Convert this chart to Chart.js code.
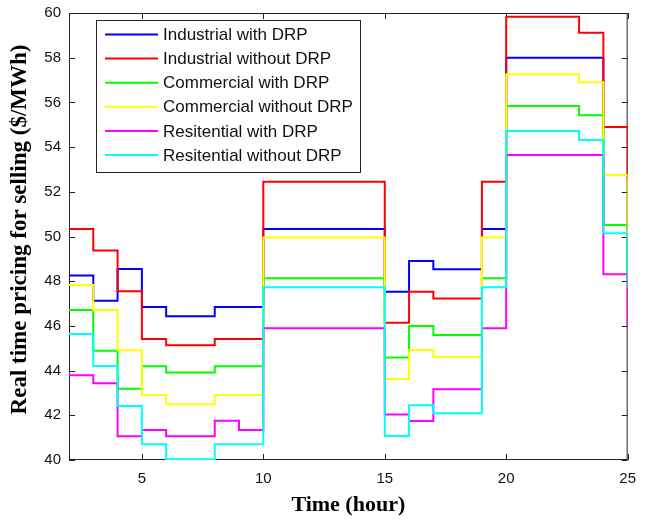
<!DOCTYPE html>
<html>
<head>
<meta charset="utf-8">
<script src="https://cdn.jsdelivr.net/npm/chart.js@4.4.1/dist/chart.umd.min.js"></script>
<style>
  html, body { margin: 0; padding: 0; background: #fff; }
  #wrap { width: 646px; height: 524px; position: relative; }
</style>
</head>
<body>
<div id="wrap"><canvas id="chart"></canvas></div>
<script>
// hours of each step start (last point closes the final step at 25)
const hours = [2, 3, 4, 5, 6, 7, 8, 9, 10, 11, 12, 13, 14, 15, 16, 17, 18, 19, 20, 21, 22, 23, 24, 25];

const industrialDRP   = [48.25, 47.13, 48.55, 46.85, 46.43, 46.43, 46.85, 46.85, 50.34, 50.34, 50.34, 50.34, 50.34, 47.53, 48.90, 48.53, 48.53, 50.34, 58.00, 58.00, 58.00, 58.00, 50.51, 50.34];
const industrialNoDRP = [50.34, 49.37, 47.55, 45.41, 45.13, 45.13, 45.41, 45.41, 52.45, 52.45, 52.45, 52.45, 52.45, 46.14, 47.53, 47.23, 47.23, 52.45, 59.83, 59.83, 59.83, 59.12, 54.90, 52.45];
const commercialDRP   = [46.71, 44.89, 43.19, 44.19, 43.92, 43.92, 44.19, 44.19, 48.13, 48.13, 48.13, 48.13, 48.13, 44.59, 45.99, 45.59, 45.59, 48.13, 55.84, 55.84, 55.84, 55.42, 50.51, 48.13];
const commercialNoDRP = [47.83, 46.71, 44.91, 42.91, 42.49, 42.49, 42.91, 42.91, 49.95, 49.95, 49.95, 49.95, 49.95, 43.62, 44.92, 44.61, 44.61, 49.95, 57.26, 57.26, 57.26, 56.90, 52.75, 49.95];
const residentialDRP  = [43.79, 43.43, 41.06, 41.34, 41.06, 41.06, 41.76, 41.34, 45.89, 45.89, 45.89, 45.89, 45.89, 42.04, 41.74, 43.16, 43.16, 45.89, 53.65, 53.65, 53.65, 53.65, 48.31, 45.89];
const residentialNoDRP= [45.64, 44.21, 42.42, 40.70, 40.03, 40.03, 40.70, 40.70, 47.73, 47.73, 47.73, 47.73, 47.73, 41.07, 42.45, 42.09, 42.09, 47.73, 54.72, 54.72, 54.72, 54.32, 50.14, 47.73];

const seriesLabels = ['Industrial with DRP', 'Industrial without DRP', 'Commercial with DRP',
  'Commercial without DRP', 'Resitential with DRP', 'Resitential without DRP'];
const seriesColors = ['#0000ff', '#ff0000', '#00ff00', '#ffff00', '#ff00ff', '#00ffff'];
const seriesValues = [industrialDRP, industrialNoDRP, commercialDRP, commercialNoDRP, residentialDRP, residentialNoDRP];

const xTicks = [5, 10, 15, 20, 25];
const yTicks = [40, 42, 44, 46, 48, 50, 52, 54, 56, 58, 60];
const yTitle = 'Real time pricing for selling ($/MWh)';

const sansFont = 'Arial, "Liberation Sans", sans-serif';
const serifFont = '"Times New Roman", "Liberation Serif", serif';

// matlab-like box with inward ticks on all four sides
const boxPlugin = {
  id: 'boxPlugin',
  beforeDatasetsDraw(chart) {
    const { ctx, chartArea: a, scales } = chart;
    ctx.save();
    ctx.strokeStyle = '#222';
    ctx.lineWidth = 1;
    ctx.strokeRect(a.left + 0.5, a.top + 0.5, a.right - a.left - 1, a.bottom - a.top - 1);
    ctx.beginPath();
    xTicks.forEach(v => {
      const x = Math.round(scales.x.getPixelForValue(v)) + 0.5;
      ctx.moveTo(x, a.bottom); ctx.lineTo(x, a.bottom - 6);
      ctx.moveTo(x, a.top); ctx.lineTo(x, a.top + 6);
    });
    yTicks.forEach(v => {
      const y = Math.round(scales.y.getPixelForValue(v)) + 0.5;
      ctx.moveTo(a.left, y); ctx.lineTo(a.left + 6, y);
      ctx.moveTo(a.right, y); ctx.lineTo(a.right - 6, y);
    });
    ctx.stroke();

    // y axis title, sits a bit above the middle of the axis like the original
    ctx.translate(20, (a.top + a.bottom) / 2 - 7);
    ctx.rotate(-Math.PI / 2);
    ctx.font = 'bold 23px ' + serifFont;
    ctx.fillStyle = '#000';
    ctx.textAlign = 'center';
    ctx.textBaseline = 'middle';
    ctx.fillText(yTitle, 0, 0);
    ctx.restore();
  }
};

// legend box inside the axes, top-left
const legendPlugin = {
  id: 'legendPlugin',
  afterDraw(chart) {
    const { ctx, chartArea: a } = chart;
    const left = a.left + 27, top = a.top + 7, w = 264, h = 152;
    ctx.save();
    ctx.fillStyle = '#fff';
    ctx.fillRect(left, top, w, h);
    ctx.strokeStyle = '#222';
    ctx.lineWidth = 1;
    ctx.strokeRect(left + 0.5, top + 0.5, w, h);
    ctx.font = '17px ' + sansFont;
    ctx.textBaseline = 'middle';
    seriesLabels.forEach((lab, i) => {
      const y = top + 14.5 + i * 24.1;
      ctx.strokeStyle = seriesColors[i];
      ctx.lineWidth = 2;
      ctx.beginPath();
      ctx.moveTo(left + 9, y); ctx.lineTo(left + 62, y);
      ctx.stroke();
      ctx.fillStyle = '#111';
      ctx.fillText(lab, left + 67, y + 1);
    });
    ctx.restore();
  }
};

new Chart(document.getElementById('chart'), {
  type: 'line',
  data: {
    datasets: seriesLabels.map((lab, i) => ({
      label: lab,
      data: hours.map((h, j) => ({ x: h, y: seriesValues[i][j] })),
      borderColor: seriesColors[i],
      backgroundColor: seriesColors[i],
      borderWidth: 2,
      pointRadius: 0,
      stepped: 'before',
      fill: false,
      order: seriesLabels.length - i
    }))
  },
  options: {
    responsive: true,
    maintainAspectRatio: false,
    animation: false,
    layout: { padding: { top: 13, right: 10, left: 0, bottom: 0 } },
    plugins: {
      legend: { display: false },
      tooltip: { enabled: false }
    },
    scales: {
      x: {
        type: 'linear',
        min: 2,
        max: 25,
        afterBuildTicks: (scale) => { scale.ticks = xTicks.map(v => ({ value: v })); },
        afterFit: (scale) => { scale.height = 64; },
        grid: { display: false, drawTicks: false },
        border: { display: false },
        ticks: { color: '#111', font: { family: sansFont, size: 15 }, padding: 10, maxRotation: 0 },
        title: {
          display: true,
          text: 'Time (hour)',
          color: '#000',
          font: { family: serifFont, size: 22, weight: 'bold' },
          padding: { top: 0, bottom: 5 }
        }
      },
      y: {
        min: 40,
        max: 60,
        afterBuildTicks: (scale) => { scale.ticks = yTicks.map(v => ({ value: v })); },
        afterFit: (scale) => {
          scale.width = 69;
          scale.paddingTop = 0;
          scale.paddingBottom = 0;
        },
        grid: { display: false, drawTicks: false },
        border: { display: false },
        ticks: { color: '#111', font: { family: sansFont, size: 15 }, padding: 8 }
      }
    }
  },
  plugins: [boxPlugin, legendPlugin]
});
</script>
</body>
</html>
